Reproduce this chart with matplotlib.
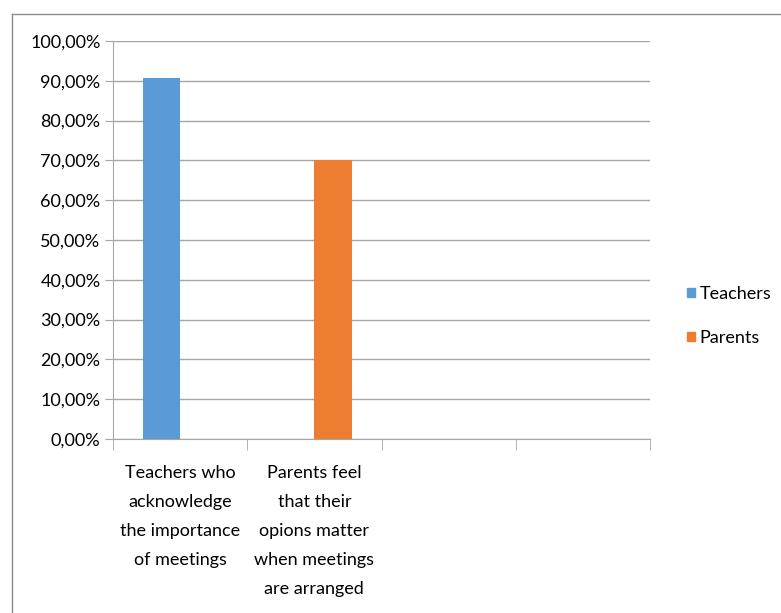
import numpy as np
import matplotlib
matplotlib.use("Agg")
import matplotlib.pyplot as plt
from matplotlib.ticker import FuncFormatter, FixedLocator
from matplotlib.patches import Patch
from matplotlib.lines import Line2D

# datos
categorias = [
    "Teachers who\nacknowledge\nthe importance\nof meetings",
    "Parents feel\nthat their\nopions matter\nwhen meetings\nare arranged",
    "",
    "",
]
teachers = [90.7, np.nan, np.nan, np.nan]
parents = [np.nan, 70.0, np.nan, np.nan]
series = ["Teachers", "Parents"]
colores = ["#5B9BD5", "#ED7D31"]

plt.rcParams["font.family"] = ["Lato", "DejaVu Sans"]

fig = plt.figure(figsize=(7.81, 6.13), dpi=100)
ax = fig.add_axes([113 / 781, 1 - 439 / 613, (650 - 113) / 781, (439 - 41) / 613])

x = np.arange(len(categorias))
ancho = 0.28
ax.bar(x - ancho / 2, teachers, ancho, color=colores[0], zorder=3)
ax.bar(x + ancho / 2, parents, ancho, color=colores[1], zorder=3)

ax.set_ylim(0, 100)
ax.set_xlim(-0.5, len(categorias) - 0.5)
ax.set_yticks(np.arange(0, 101, 10))
ax.yaxis.set_major_formatter(FuncFormatter(lambda v, p: f"{v:.2f}".replace(".", ",") + "%"))
ax.grid(axis="y", color="#a6a6a6", linewidth=1, zorder=0)

ax.set_xticks(x)
ax.set_xticklabels(categorias, fontsize=13, linespacing=2.0)
ax.xaxis.set_minor_locator(FixedLocator(np.arange(-0.5, len(categorias), 1)))
ax.tick_params(axis="x", which="major", length=0, pad=19)
ax.tick_params(axis="x", which="minor", length=8, color="#a6a6a6", direction="out")
ax.tick_params(axis="y", length=6, color="#a6a6a6", labelsize=13, pad=3)

for lado in ["top", "right"]:
    ax.spines[lado].set_visible(False)
ax.spines["left"].set_color("#a6a6a6")
ax.spines["bottom"].set_color("#a6a6a6")

# leyenda
manijas = [Patch(color=c) for c in colores]
fig.legend(manijas, series, loc="center left", bbox_to_anchor=(687 / 781, 1 - 316 / 613),
           frameon=False, fontsize=13, handlelength=0.45, handleheight=0.45,
           handletextpad=0.25, labelspacing=1.55, borderpad=0, borderaxespad=0)

# borde del grafico
fig.add_artist(Line2D([12 / 781, 12 / 781], [0, 1 - 14 / 613], color="#8c8c8c", linewidth=1))
fig.add_artist(Line2D([12 / 781, 1], [1 - 14 / 613, 1 - 14 / 613], color="#8c8c8c", linewidth=1))

fig.savefig("out.png", dpi=100)
